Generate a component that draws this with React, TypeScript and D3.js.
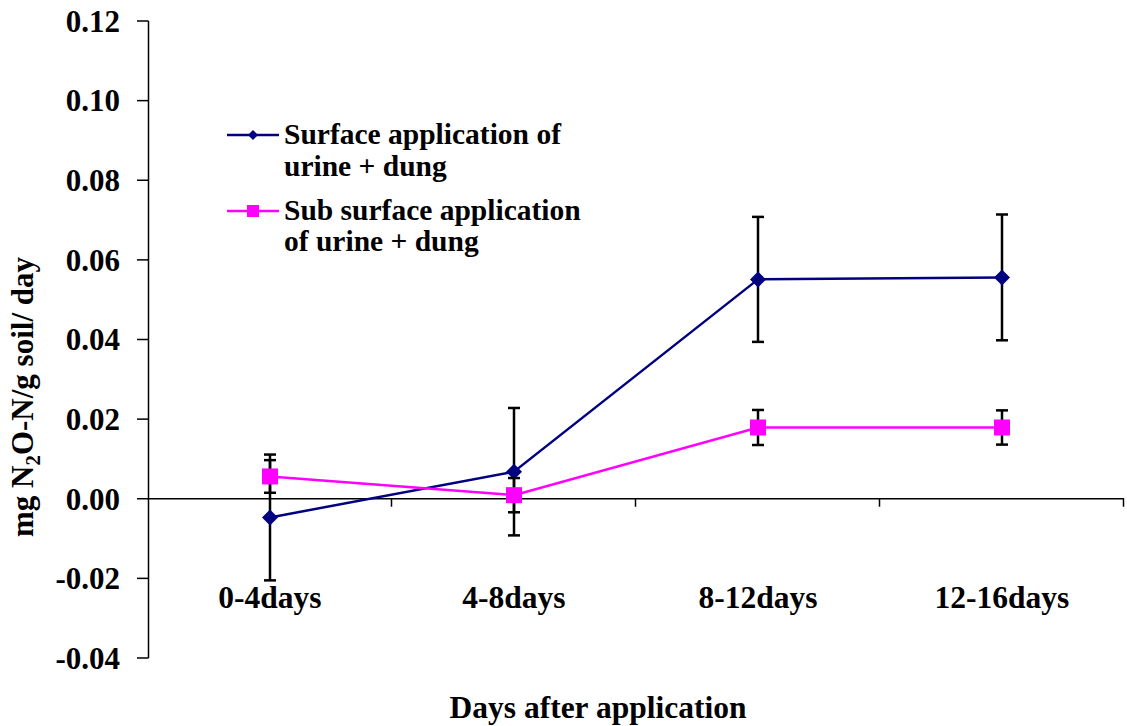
import React from "react";
import * as d3 from "d3";

const categories = ["0-4days", "4-8days", "8-12days", "12-16days"];
const surfaceMean = [-0.0047, 0.0068, 0.0551, 0.0556];
const surfaceErr = [0.0158, 0.016, 0.0157, 0.0158];
const subMean = [0.0056, 0.0009, 0.0179, 0.0179];
const subErr = [0.0041, 0.0043, 0.0044, 0.0043];
const yTicks = [0.12, 0.1, 0.08, 0.06, 0.04, 0.02, 0.0, -0.02, -0.04];

const W = 1127;
const H = 726;
const FONT = "'Liberation Serif', 'Times New Roman', serif";

export default function App() {
  const x = d3.scaleBand().domain(categories).range([148, 1124]).padding(0);
  const y = d3.scaleLinear().domain([-0.04, 0.12]).range([658, 21]);
  const cx = (c: string) => (x(c) as number) + x.bandwidth() / 2;
  const line = d3
    .line<number>()
    .x((_, i) => cx(categories[i]))
    .y((d) => y(d));

  const series = [
    { mean: surfaceMean, err: surfaceErr, color: "#000080", shape: "diamond" },
    { mean: subMean, err: subErr, color: "#FF00FF", shape: "square" },
  ];

  const marker = (shape: string, px: number, py: number, color: string, s: number, key: string) =>
    shape === "diamond" ? (
      <path key={key} d={`M${px},${py - s}L${px + s},${py}L${px},${py + s}L${px - s},${py}Z`} fill={color} />
    ) : (
      <rect key={key} x={px - s} y={py - s} width={2 * s} height={2 * s} fill={color} />
    );

  const y0 = y(0);
  const bandEdges = categories.map((c) => (x(c) as number) + x.bandwidth());

  return (
    <svg width={W} height={H} style={{ position: "absolute", left: 0, top: 0, background: "#fff" }} fontFamily={FONT} fontWeight="bold">
      {/* Y axis */}
      <line x1={148.5} x2={148.5} y1={y(0.12)} y2={y(-0.04)} stroke="#000" strokeWidth={1.5} />
      {yTicks.map((t) => (
        <g key={t}>
          <line x1={137} x2={148.5} y1={y(t)} y2={y(t)} stroke="#000" strokeWidth={1.5} />
          <text x={120} y={y(t)} dy="0.35em" textAnchor="end" fontSize={31}>
            {d3.format(".2f")(t).replace("−", "-")}
          </text>
        </g>
      ))}
      {/* X axis at zero */}
      <line x1={148.5} x2={1124} y1={y0} y2={y0} stroke="#000" strokeWidth={1.5} />
      {bandEdges.map((e, i) => (
        <line key={i} x1={e - 0.5} x2={e - 0.5} y1={y0} y2={y0 + 8} stroke="#000" strokeWidth={1.5} />
      ))}
      {categories.map((c) => (
        <text key={c} x={cx(c)} y={608} textAnchor="middle" fontSize={31.5}>
          {c}
        </text>
      ))}
      {/* Axis titles */}
      <text x={598} y={718} textAnchor="middle" fontSize={31.5}>
        Days after application
      </text>
      <text transform={`translate(33,397) rotate(-90)`} textAnchor="middle" fontSize={31}>
        mg N<tspan fontSize={21} dy={7}>2</tspan>
        <tspan dy={-7}>O-N/g soil/ day</tspan>
      </text>
      {/* Series */}
      {series.map((s, si) => (
        <g key={si}>
          <path d={line(s.mean) as string} fill="none" stroke={s.color} strokeWidth={2.5} />
          {s.mean.map((m, i) => {
            const px = cx(categories[i]);
            const top = y(m + s.err[i]);
            const bot = y(m - s.err[i]);
            return (
              <g key={i} stroke="#000" strokeWidth={2.5}>
                <line x1={px} x2={px} y1={top} y2={bot} />
                <line x1={px - 6} x2={px + 6} y1={top} y2={top} />
                <line x1={px - 6} x2={px + 6} y1={bot} y2={bot} />
              </g>
            );
          })}
          {s.mean.map((m, i) =>
            marker(s.shape, cx(categories[i]), y(m), s.color, 8, `m${i}`)
          )}
        </g>
      ))}
      {/* Legend */}
      <g fontSize={29.5}>
        <line x1={227} x2={279} y1={135} y2={135} stroke="#000080" strokeWidth={2.5} />
        {marker("diamond", 253, 135, "#000080", 5, "ld")}
        <text x={284} y={144}>Surface application of</text>
        <text x={284} y={176}>urine + dung</text>
        <line x1={227} x2={279} y1={211} y2={211} stroke="#FF00FF" strokeWidth={2.5} />
        {marker("square", 253, 211, "#FF00FF", 6, "ls")}
        <text x={284} y={220}>Sub surface application</text>
        <text x={284} y={251}>of urine + dung</text>
      </g>
    </svg>
  );
}
